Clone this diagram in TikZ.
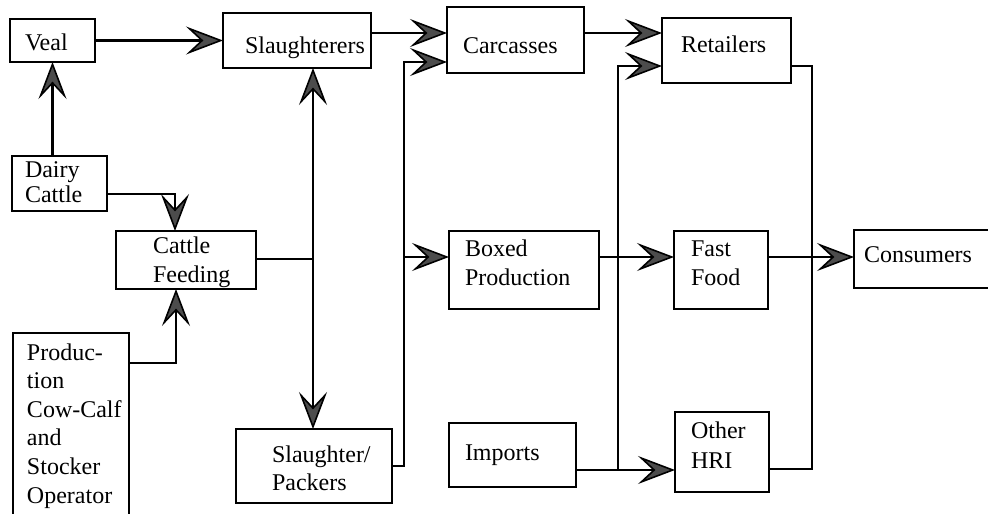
\documentclass[tikz,border=0pt]{standalone}
\usepackage{fontspec}
\setmainfont{Liberation Serif}
\usetikzlibrary{arrows.meta}
\begin{document}
\begin{tikzpicture}[x=1pt,y=-1pt,
  box/.style={draw, line width=2.4pt, rectangle, anchor=north west, inner ysep=0pt,
    outer sep=0pt, align=left, font=\fontsize{24}{28.7}\selectfont},
  barb/.tip={Stealth[length=37pt,width=28pt,inset=15pt,fill=black!70,line width=1.6pt]},
  flow/.style={line width=2.2pt},
  arr/.style={flow, -barb},
  biarr/.style={flow, barb-barb}]
\fill[white] (0,0) rectangle (988,514);
\useasboundingbox (0,0) rectangle (988,514);
\clip (0,0) rectangle (988,514);

% boxes
\node[box, inner xsep=15pt, text width=55pt, text height=31pt, text depth=12pt] (veal) at (10,19) {Veal};
\node[box, inner xsep=22pt, text width=104pt, text height=40pt, text depth=15pt] (slaughterers) at (223,13) {\mbox{Slaughterers}};
\node[box, inner xsep=16pt, text width=105pt, text height=46pt, text depth=20pt] (carcasses) at (447,7) {Carcasses};
\node[box, inner xsep=19pt, text width=91pt, text height=34pt, text depth=31pt] (retailers) at (662,18) {Retailers};
\node[box, inner xsep=13pt, text width=69pt, text height=21pt, text depth=34pt, font=\fontsize{24}{25}\selectfont] (dairy) at (12,156) {Dairy\\Cattle};
\node[box, inner xsep=37pt, text width=66pt, text height=22pt, text depth=36pt, font=\fontsize{24}{29}\selectfont] (feeding) at (116,231) {Cattle\\\mbox{Feeding}};
\node[box, inner xsep=14pt, text width=88pt, text height=27pt, text depth=200pt, font=\fontsize{24}{28.6}\selectfont] (production) at (13,333) {Produc-\\tion\\\mbox{Cow-Calf}\\and\\Stocker\\\mbox{Operator}};
\node[box, inner xsep=36pt, text width=84pt, text height=33pt, text depth=41pt, font=\fontsize{24}{28}\selectfont] (packers) at (236,429) {\mbox{Slaughter/}\\Packers};
\node[box, inner xsep=16pt, text width=118pt, text height=25pt, text depth=53pt, font=\fontsize{24}{29}\selectfont] (boxed) at (449,231) {Boxed\\Production};
\node[box, inner xsep=16pt, text width=95pt, text height=37pt, text depth=27pt] (imports) at (449,423) {Imports};
\node[box, inner xsep=17pt, text width=60pt, text height=25pt, text depth=53pt, font=\fontsize{24}{29}\selectfont] (fastfood) at (674,231) {Fast\\Food};
\node[box, inner xsep=16pt, text width=62pt, text height=26pt, text depth=54pt, font=\fontsize{24}{30}\selectfont] (hri) at (675,412) {Other\\HRI};
\node[box, inner xsep=10pt, text width=136pt, text height=32pt, text depth=26pt] (consumers) at (854,230) {Consumers};

% bend points
\coordinate (j1) at (175,194);
\coordinate (j2) at (176,363);
\coordinate (s1) at (313,259);
\coordinate (r1) at (400,33);
\coordinate (s2) at (404,466);
\coordinate (a1) at (404,62);
\coordinate (a2) at (404,257);
\coordinate (b0) at (620,33);
\coordinate (b1) at (618,66);
\coordinate (b2) at (618,257);
\coordinate (b3) at (618,470);
\coordinate (c1) at (812,66);
\coordinate (c2) at (812,257);
\coordinate (c3) at (812,469);

% connectors
\draw[arr] (veal.east) -- (veal.east -| slaughterers.west);
\draw[arr] (veal.south |- dairy.north) -- (veal.south);
\draw[arr] (j1 -| dairy.east) -- (j1) -- (j1 |- feeding.north);
\draw[arr] (j2 -| production.east) -- (j2) -- (j2 |- feeding.south);
\draw[flow] (feeding.east |- s1) -- (s1);
\draw[biarr] (s1 |- slaughterers.south) -- (s1 |- packers.north);
\draw[arr] (r1 -| slaughterers.east) -- (r1 -| carcasses.west);
\draw[arr] (packers.east |- s2) -- (s2) -- (a1) -- (a1 -| carcasses.west);
\draw[arr] (a2) -- (a2 -| boxed.west);
\draw[arr] (b0 -| carcasses.east) -- (b0 -| retailers.west);
\draw[arr] (b3) -- (b1) -- (b1 -| retailers.west);
\draw[arr] (b2 -| boxed.east) -- (b2 -| fastfood.west);
\draw[arr] (b3 -| imports.east) -- (b3 -| hri.west);
\draw[flow] (c1 -| retailers.east) -- (c1) -- (c3) -- (c3 -| hri.east);
\draw[arr] (c2 -| fastfood.east) -- (c2 -| consumers.west);
\end{tikzpicture}
\end{document}
